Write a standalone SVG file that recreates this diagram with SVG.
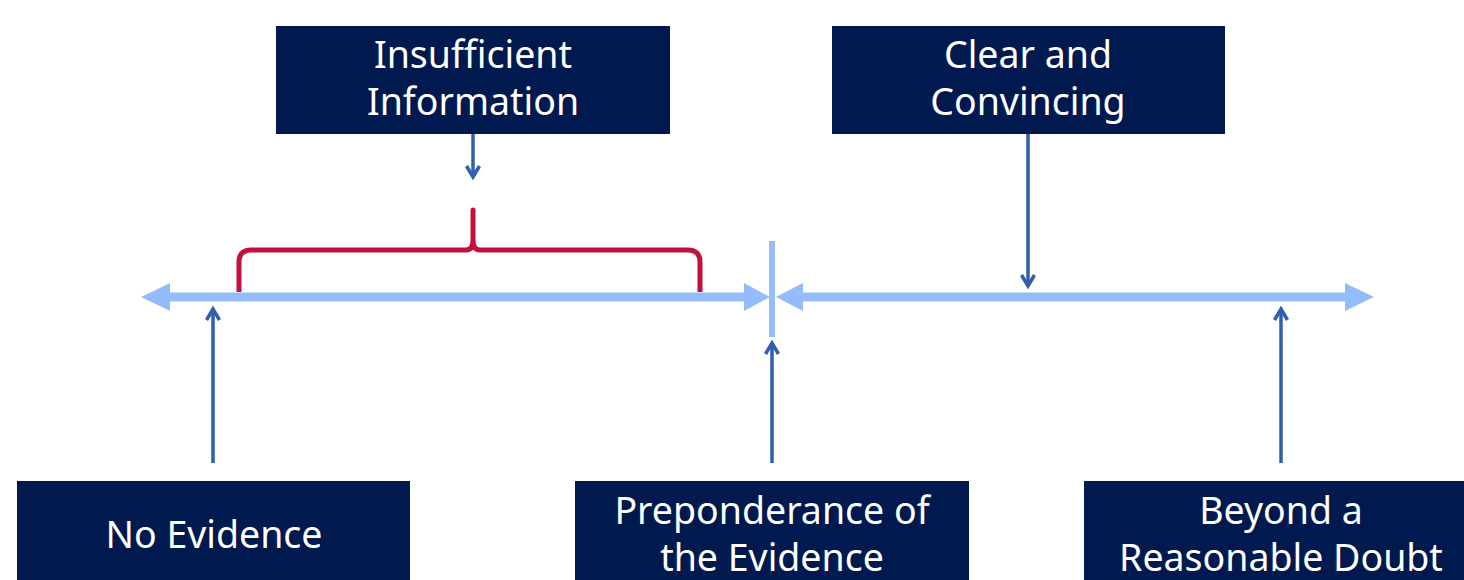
<svg xmlns="http://www.w3.org/2000/svg" width="1464" height="580" viewBox="0 0 1464 580">
<style>
.box{fill:#00194f;}
.lbl{font-family:"Noto Sans","Open Sans",sans-serif;font-size:37.5px;fill:#ffffff;text-anchor:middle;}
.scale{stroke:#94bcfa;stroke-width:9;fill:none;}
.head{fill:#94bcfa;}
.ptr{stroke:#2f5fae;stroke-width:3.5;fill:none;}
.brace{stroke:#c3103f;stroke-width:5;fill:none;stroke-linejoin:round;}
</style>
<defs>
<marker id="ah" viewBox="0 0 16 16" refX="13" refY="8" markerWidth="16" markerHeight="16" markerUnits="userSpaceOnUse" orient="auto">
<path d="M2,1.5 L13,8 L2,14.5" fill="none" stroke="#2f5fae" stroke-width="3.5" stroke-linejoin="miter"/>
</marker>
</defs>
<rect width="1464" height="580" fill="#ffffff"/>
<g id="connectors">
<line class="scale" x1="165" y1="297" x2="750" y2="297"/>
<polygon class="head" points="141,297 170,283 170,311"/>
<polygon class="head" points="770,297 744,283 744,311"/>
<line class="scale" x1="798" y1="297" x2="1350" y2="297"/>
<polygon class="head" points="776,297 803,283 803,311"/>
<polygon class="head" points="1374,297 1345,283 1345,311"/>
<line x1="772" y1="241" x2="772" y2="337" stroke="#94bcfa" stroke-width="6"/>
<path class="brace" d="M239,292 L239,262 Q239,250 251,250 L466,250 Q473,250 473,240 L473,210 L473,240 Q473,250 480,250 L688,250 Q700,250 700,262 L700,292"/>
<line class="ptr" x1="473" y1="134" x2="473" y2="177" marker-end="url(#ah)"/>
<line class="ptr" x1="1028" y1="134" x2="1028" y2="286" marker-end="url(#ah)"/>
<line class="ptr" x1="213" y1="463" x2="213" y2="309" marker-end="url(#ah)"/>
<line class="ptr" x1="772" y1="463" x2="772" y2="343" marker-end="url(#ah)"/>
<line class="ptr" x1="1281" y1="463" x2="1281" y2="309" marker-end="url(#ah)"/>
</g>
<g id="insufficient">
<rect class="box" x="276" y="26" width="394" height="108"/>
<text class="lbl" x="473" y="68">Insufficient</text>
<text class="lbl" x="473" y="115">Information</text>
</g>
<g id="clear">
<rect class="box" x="832" y="26" width="393" height="108"/>
<text class="lbl" x="1028" y="68">Clear and</text>
<text class="lbl" x="1028" y="115">Convincing</text>
</g>
<g id="noevidence">
<rect class="box" x="17" y="481" width="393" height="110"/>
<text class="lbl" x="214" y="548">No Evidence</text>
</g>
<g id="preponderance">
<rect class="box" x="575" y="481" width="394" height="110"/>
<text class="lbl" x="772" y="524">Preponderance of</text>
<text class="lbl" x="772" y="571">the Evidence</text>
</g>
<g id="beyond">
<rect class="box" x="1084" y="481" width="390" height="110"/>
<text class="lbl" x="1281" y="524">Beyond a</text>
<text class="lbl" x="1281" y="571">Reasonable Doubt</text>
</g>
</svg>
